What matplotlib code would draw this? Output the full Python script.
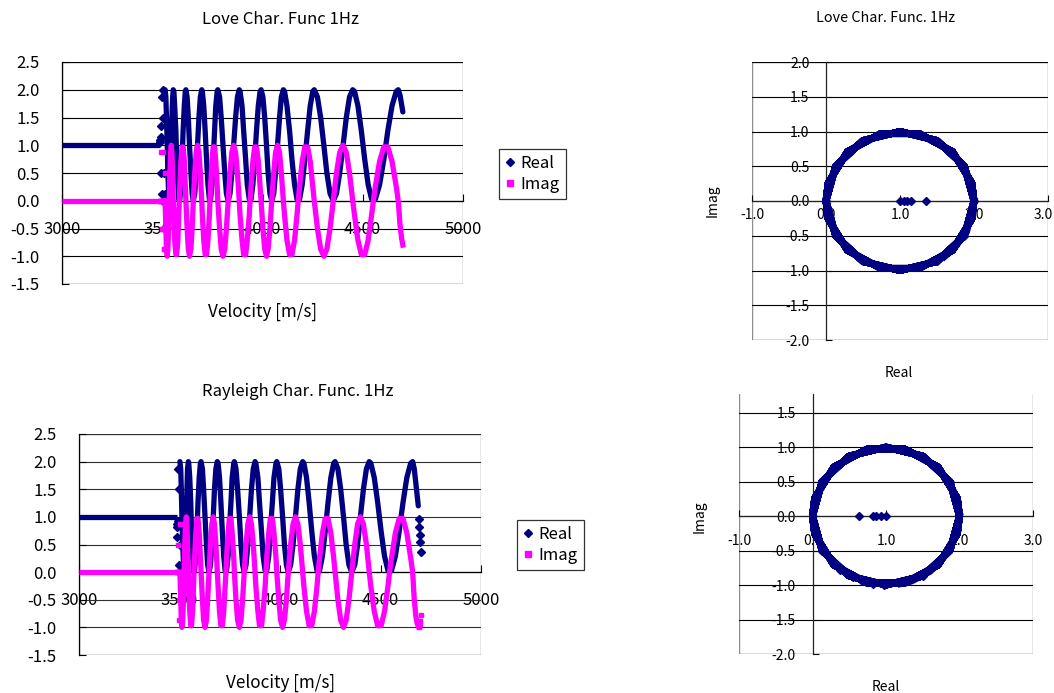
import matplotlib
matplotlib.use("Agg")
import matplotlib.pyplot as plt
from matplotlib.patches import Rectangle
from matplotlib.lines import Line2D
from matplotlib.ticker import FormatStrFormatter
from matplotlib.transforms import ScaledTranslation

plt.rcParams['font.family'] = ['Noto Sans CJK JP', 'DejaVu Sans']
plt.rcParams['axes.unicode_minus'] = True

NAVY = '#000080'
MAGENTA = '#FF00FF'

# ------------------------------------------------------------------ data
# ---- Love, 1 Hz ----
love_flat_v = [3000, 3490]
love_flat_re = [1.0, 1.0]
love_flat_im = [0.0, 0.0]

love_start_v = [3488, 3490, 3492, 3494, 3496, 3498, 3500, 3502, 3504, 3506, 3508, 3510, 3512]
love_start_re = [1.05, 1.1, 1.15, 1.35, 0.5, 1.87, 0.13, 1.5, 0.0, 2.0, 0.5, 1.5, 0.13]
love_start_im = [0.0, 0.0, 0.0, 0.0, 0.87, -0.5, -0.5, 0.87, 0.0, 0.0, -0.87, -0.87, 0.5]

love_v = [3514,
          3518, 3521, 3525, 3528, 3532, 3535, 3538, 3542, 3545, 3548, 3552, 3555,
          3558, 3562, 3568, 3572, 3578, 3582, 3585, 3588, 3593, 3599, 3604, 3610, 3615, 3618,
          3624, 3630, 3636, 3643, 3649, 3655, 3662, 3669, 3676, 3683, 3690, 3697,
          3700, 3707, 3714, 3721, 3728, 3735, 3738, 3741, 3748, 3754, 3761, 3767, 3774, 3777,
          3786, 3794, 3803, 3812, 3820, 3829, 3838, 3847, 3856, 3866, 3875, 3884,
          3888, 3898, 3906, 3916, 3924, 3934, 3938, 3943, 3952, 3961, 3970, 3979, 3988, 3993,
          4002, 4011, 4020, 4028, 4037, 4046, 4056, 4065, 4075, 4085, 4094, 4104,
          4110, 4122, 4135, 4147, 4160, 4172, 4178, 4185, 4198, 4211, 4225, 4238, 4251, 4258,
          4274, 4290, 4306, 4321, 4337, 4353, 4369, 4385, 4402, 4418, 4434, 4450,
          4459, 4476, 4493, 4510, 4527, 4544, 4553, 4563, 4584, 4605, 4625, 4646, 4667, 4677]
love_re = [2.0,
           1.87, 1.5, 1.0, 0.5, 0.13, 0.0, 0.13, 0.5, 1.0, 1.5, 1.87, 2.0,
           1.97, 1.71, 1.26, 0.74, 0.29, 0.03, 0.0, 0.03, 0.29, 0.74, 1.26, 1.71, 1.97, 2.0,
           1.87, 1.5, 1.0, 0.5, 0.13, 0.0, 0.13, 0.5, 1.0, 1.5, 1.87, 2.0,
           1.97, 1.71, 1.26, 0.74, 0.29, 0.03, 0.0, 0.03, 0.29, 0.74, 1.26, 1.71, 1.97, 2.0,
           1.87, 1.5, 1.0, 0.5, 0.13, 0.0, 0.13, 0.5, 1.0, 1.5, 1.87, 2.0,
           1.97, 1.71, 1.26, 0.74, 0.29, 0.03, 0.0, 0.03, 0.29, 0.74, 1.26, 1.71, 1.97, 2.0,
           1.87, 1.5, 1.0, 0.5, 0.13, 0.0, 0.13, 0.5, 1.0, 1.5, 1.87, 2.0,
           1.97, 1.71, 1.26, 0.74, 0.29, 0.03, 0.0, 0.03, 0.29, 0.74, 1.26, 1.71, 1.97, 2.0,
           1.87, 1.5, 1.0, 0.5, 0.13, 0.0, 0.13, 0.5, 1.0, 1.5, 1.87, 2.0,
           1.97, 1.71, 1.26, 0.74, 0.29, 0.03, 0.0, 0.03, 0.29, 0.74, 1.26, 1.71, 1.97, 2.0]
love_im = [0.0,
           -0.5, -0.87, -1.0, -0.87, -0.5, 0.0, 0.5, 0.87, 1.0, 0.87, 0.5, 0.0,
           -0.26, -0.71, -0.97, -0.97, -0.71, -0.26, 0.0, 0.26, 0.71, 0.97, 0.97, 0.71, 0.26, 0.0,
           -0.5, -0.87, -1.0, -0.87, -0.5, 0.0, 0.5, 0.87, 1.0, 0.87, 0.5, 0.0,
           -0.26, -0.71, -0.97, -0.97, -0.71, -0.26, 0.0, 0.26, 0.71, 0.97, 0.97, 0.71, 0.26, 0.0,
           -0.5, -0.87, -1.0, -0.87, -0.5, 0.0, 0.5, 0.87, 1.0, 0.87, 0.5, 0.0,
           -0.26, -0.71, -0.97, -0.97, -0.71, -0.26, 0.0, 0.26, 0.71, 0.97, 0.97, 0.71, 0.26, 0.0,
           -0.5, -0.87, -1.0, -0.87, -0.5, 0.0, 0.5, 0.87, 1.0, 0.87, 0.5, 0.0,
           -0.26, -0.71, -0.97, -0.97, -0.71, -0.26, 0.0, 0.26, 0.71, 0.97, 0.97, 0.71, 0.26, 0.0,
           -0.5, -0.87, -1.0, -0.87, -0.5, 0.0, 0.5, 0.87, 1.0, 0.87, 0.5, 0.0,
           -0.26, -0.71, -0.97, -0.97, -0.71, -0.26, 0.0, 0.26, 0.71, 0.97, 0.97, 0.71, 0.26, 0.0]

love_tail_v = [4686, 4694, 4700]
love_tail_re = [1.9, 1.73, 1.6]
love_tail_im = [-0.44, -0.68, -0.8]

# ---- Rayleigh, 1 Hz ----
ray_flat_v = [3000, 3486]
ray_flat_re = [1.0, 1.0]
ray_flat_im = [0.0, 0.0]

ray_start_v = [3486, 3488, 3490, 3492, 3494, 3496, 3498, 3500]
ray_start_re = [0.63, 0.82, 0.87, 0.93, 1.87, 0.13, 1.5, 0.5]
ray_start_im = [0.0, 0.0, 0.0, 0.0, 0.5, -0.5, -0.87, 0.87]

ray_v = [3502,
         3506, 3509, 3512, 3516, 3520, 3523, 3526, 3530, 3534, 3537, 3540, 3544,
         3546, 3551, 3556, 3560, 3565, 3570, 3572, 3575, 3581, 3587, 3592, 3598, 3604, 3607,
         3614, 3620, 3627, 3634, 3640, 3647, 3654, 3661, 3668, 3674, 3681, 3688,
         3692, 3699, 3706, 3713, 3720, 3727, 3731, 3734, 3742, 3748, 3756, 3762, 3770, 3773,
         3781, 3789, 3798, 3806, 3814, 3822, 3831, 3840, 3849, 3858, 3867, 3876,
         3880, 3890, 3898, 3908, 3916, 3926, 3930, 3934, 3944, 3952, 3962, 3970, 3980, 3984,
         3994, 4003, 4013, 4022, 4032, 4041, 4053, 4065, 4077, 4089, 4101, 4113,
         4119, 4132, 4145, 4158, 4171, 4184, 4190, 4197, 4211, 4225, 4239, 4253, 4267, 4274,
         4288, 4302, 4316, 4329, 4343, 4357, 4372, 4386, 4400, 4415, 4430, 4444,
         4452, 4469, 4486, 4503, 4520, 4537, 4545, 4555, 4574, 4593, 4612, 4631, 4650, 4660]
ray_re = [2.0,
          1.87, 1.5, 1.0, 0.5, 0.13, 0.0, 0.13, 0.5, 1.0, 1.5, 1.87, 2.0,
          1.97, 1.71, 1.26, 0.74, 0.29, 0.03, 0.0, 0.03, 0.29, 0.74, 1.26, 1.71, 1.97, 2.0,
          1.87, 1.5, 1.0, 0.5, 0.13, 0.0, 0.13, 0.5, 1.0, 1.5, 1.87, 2.0,
          1.97, 1.71, 1.26, 0.74, 0.29, 0.03, 0.0, 0.03, 0.29, 0.74, 1.26, 1.71, 1.97, 2.0,
          1.87, 1.5, 1.0, 0.5, 0.13, 0.0, 0.13, 0.5, 1.0, 1.5, 1.87, 2.0,
          1.97, 1.71, 1.26, 0.74, 0.29, 0.03, 0.0, 0.03, 0.29, 0.74, 1.26, 1.71, 1.97, 2.0,
          1.87, 1.5, 1.0, 0.5, 0.13, 0.0, 0.13, 0.5, 1.0, 1.5, 1.87, 2.0,
          1.97, 1.71, 1.26, 0.74, 0.29, 0.03, 0.0, 0.03, 0.29, 0.74, 1.26, 1.71, 1.97, 2.0,
          1.87, 1.5, 1.0, 0.5, 0.13, 0.0, 0.13, 0.5, 1.0, 1.5, 1.87, 2.0,
          1.97, 1.71, 1.26, 0.74, 0.29, 0.03, 0.0, 0.03, 0.29, 0.74, 1.26, 1.71, 1.97, 2.0]
ray_im = [0.0,
          -0.5, -0.87, -1.0, -0.87, -0.5, 0.0, 0.5, 0.87, 1.0, 0.87, 0.5, 0.0,
          -0.26, -0.71, -0.97, -0.97, -0.71, -0.26, 0.0, 0.26, 0.71, 0.97, 0.97, 0.71, 0.26, 0.0,
          -0.5, -0.87, -1.0, -0.87, -0.5, 0.0, 0.5, 0.87, 1.0, 0.87, 0.5, 0.0,
          -0.26, -0.71, -0.97, -0.97, -0.71, -0.26, 0.0, 0.26, 0.71, 0.97, 0.97, 0.71, 0.26, 0.0,
          -0.5, -0.87, -1.0, -0.87, -0.5, 0.0, 0.5, 0.87, 1.0, 0.87, 0.5, 0.0,
          -0.26, -0.71, -0.97, -0.97, -0.71, -0.26, 0.0, 0.26, 0.71, 0.97, 0.97, 0.71, 0.26, 0.0,
          -0.5, -0.87, -1.0, -0.87, -0.5, 0.0, 0.5, 0.87, 1.0, 0.87, 0.5, 0.0,
          -0.26, -0.71, -0.97, -0.97, -0.71, -0.26, 0.0, 0.26, 0.71, 0.97, 0.97, 0.71, 0.26, 0.0,
          -0.5, -0.87, -1.0, -0.87, -0.5, 0.0, 0.5, 0.87, 1.0, 0.87, 0.5, 0.0,
          -0.26, -0.71, -0.97, -0.97, -0.71, -0.26, 0.0, 0.26, 0.71, 0.97, 0.97, 0.71, 0.26, 0.0]

ray_tail_v = [4668, 4676, 4683, 4688]
ray_tail_re = [1.87, 1.6, 1.35, 1.2]
ray_tail_im = [-0.5, -0.8, -0.94, -0.98]
ray_end_v = [4692, 4694, 4696, 4698, 4700]
ray_end_re = [0.97, 0.82, 0.67, 0.55, 0.37]
ray_end_im = [-1.0, -0.98, -0.94, -0.89, -0.78]

# axis settings
wave_xticks = [3000, 3500, 4000, 4500, 5000]
wave_yticks = [-1.5, -1.0, -0.5, 0.0, 0.5, 1.0, 1.5, 2.0, 2.5]
circ_xticks = [-1.0, 0.0, 1.0, 2.0, 3.0]
circ_yticks = [-2.0, -1.5, -1.0, -0.5, 0.0, 0.5, 1.0, 1.5, 2.0]
series_names = ['Real', 'Imag']

W, H = 1054, 693
fig = plt.figure(figsize=(W / 100, H / 100), dpi=100)
fig.patch.set_facecolor('white')


def frac_rect(l, t, r, b):
    return [l / W, 1 - b / H, (r - l) / W, (b - t) / H]


LW = 3.8


def wave_panel(rect, flat, start, main, tail, end, grid_color):
    ax = fig.add_axes(rect)
    ax.set_xlim(3000, 5000)
    ax.set_ylim(-1.5, 2.5)
    for s in ['top', 'right']:
        ax.spines[s].set_visible(False)
    ax.spines['left'].set_color('black')
    ax.spines['left'].set_linewidth(0.9)
    ax.spines['bottom'].set_position(('data', 0))
    ax.spines['bottom'].set_color('black')
    ax.spines['bottom'].set_linewidth(0.9)
    ax.add_patch(Rectangle((0, 0), 1, 1, transform=ax.transAxes, fill=False,
                           edgecolor='#8c8c8c', lw=1.0, zorder=0.5))
    ax.set_xticks(wave_xticks)
    ax.set_yticks(wave_yticks)
    ax.xaxis.set_major_formatter(FormatStrFormatter('%d'))
    ax.yaxis.set_major_formatter(FormatStrFormatter('%.1f'))
    ax.yaxis.grid(True, color=grid_color, lw=0.8)
    ax.set_axisbelow(True)
    ax.tick_params(axis='x', direction='in', length=5, width=0.8, pad=14.5,
                   labelsize=12)
    ax.tick_params(axis='y', direction='in', length=5, width=0.8, pad=16,
                   labelsize=12)
    # Real
    ax.plot(flat[0], flat[1], color=NAVY, lw=LW, solid_capstyle='butt', zorder=3)
    ax.plot(start[0], start[1], ls='none', marker='D', ms=3.6, color=NAVY, zorder=3)
    ax.plot(main[0] + tail[0], main[1] + tail[1], color=NAVY, lw=LW,
            solid_joinstyle='round', solid_capstyle='round', zorder=3)
    if end is not None:
        ax.plot(end[0], end[1], ls='none', marker='D', ms=3.6, color=NAVY, zorder=3)
    # Imag
    ax.plot(flat[0], flat[2], color=MAGENTA, lw=LW, solid_capstyle='butt', zorder=4)
    ax.plot(start[0], start[2], ls='none', marker='s', ms=3.4, color=MAGENTA, zorder=4)
    ax.plot(main[0] + tail[0], main[2] + tail[2], color=MAGENTA, lw=LW,
            solid_joinstyle='round', solid_capstyle='projecting', zorder=4)
    if end is not None:
        ax.plot(end[0], end[2], ls='none', marker='s', ms=3.4, color=MAGENTA, zorder=4)
    return ax


def circle_panel(rect, ylim, start, main, tail, end, full_box, xpad, ylabel_xy,
                 xlabel_xy, shift_last):
    ax = fig.add_axes(rect)
    ax.set_xlim(-1.0, 3.0)
    ax.set_ylim(*ylim)
    for s in ['top', 'right']:
        ax.spines[s].set_visible(False)
    ax.spines['left'].set_position(('data', 0))
    ax.spines['bottom'].set_position(('data', 0))
    ax.spines['left'].set_color('#222222')
    ax.spines['bottom'].set_color('#222222')
    ax.spines['left'].set_linewidth(0.9)
    ax.spines['bottom'].set_linewidth(0.9)
    if full_box:
        ax.add_patch(Rectangle((0, 0), 1, 1, transform=ax.transAxes, fill=False,
                               edgecolor='#8c8c8c', lw=1.0, zorder=0.5))
    else:
        ax.add_line(Line2D([0, 0, 1, 1], [1, 0, 0, 1], transform=ax.transAxes,
                           color='#8c8c8c', lw=1.0, zorder=0.5))
    ax.set_xticks(circ_xticks)
    ax.set_yticks([t for t in circ_yticks if t <= ylim[1]])
    ax.xaxis.set_major_formatter(FormatStrFormatter('%.1f'))
    ax.yaxis.set_major_formatter(FormatStrFormatter('%.1f'))
    ax.yaxis.grid(True, color='black', lw=0.8)
    ax.set_axisbelow(True)
    ax.tick_params(axis='x', direction='in', length=4, width=0.8, pad=xpad, labelsize=10)
    ax.tick_params(axis='y', direction='in', length=4, width=0.8, pad=12, labelsize=10)
    ax.plot(main[1] + tail[1], main[2] + tail[2], color=NAVY, lw=5.0,
            solid_joinstyle='round', zorder=3)
    ax.plot(start[1], start[2], ls='none', marker='D', ms=4, color=NAVY, zorder=3)
    if end is not None:
        ax.plot(end[1], end[2], ls='none', marker='D', ms=4, color=NAVY, zorder=3)
    ax.plot([1.0], [0.0], ls='none', marker='D', ms=4, color=NAVY, zorder=3)
    ax.set_ylabel('Imag', fontsize=10)
    ax.set_xlabel('Real', fontsize=10)
    ax.yaxis.set_label_coords(*ylabel_xy)
    ax.xaxis.set_label_coords(*xlabel_xy)
    if shift_last:
        lbl = ax.get_xticklabels()[-1]
        lbl.set_transform(lbl.get_transform() +
                          ScaledTranslation(-5 / 100, 0, fig.dpi_scale_trans))
    return ax


love_flat = (love_flat_v, love_flat_re, love_flat_im)
love_start = (love_start_v, love_start_re, love_start_im)
love_main = (love_v, love_re, love_im)
love_tail = (love_tail_v, love_tail_re, love_tail_im)

ray_flat = (ray_flat_v, ray_flat_re, ray_flat_im)
ray_start = (ray_start_v, ray_start_re, ray_start_im)
ray_main = (ray_v, ray_re, ray_im)
ray_tail = (ray_tail_v, ray_tail_re, ray_tail_im)
ray_end = (ray_end_v, ray_end_re, ray_end_im)

handles = [Line2D([], [], ls='none', marker='D', ms=4, color=NAVY),
           Line2D([], [], ls='none', marker='s', ms=4, color=MAGENTA)]


def add_legend(ax, x, y):
    leg = ax.legend(handles, series_names, loc='upper left',
                    bbox_to_anchor=(x / W, 1 - y / H),
                    bbox_transform=fig.transFigure, frameon=True, fancybox=False,
                    edgecolor='black', fontsize=12, handlelength=0.6,
                    handletextpad=0.35, borderpad=0.35, labelspacing=0.25,
                    borderaxespad=0)
    leg.get_frame().set_linewidth(0.9)


# ---- top-left: Love wave
ax1 = wave_panel(frac_rect(62, 62, 463, 284), love_flat, love_start, love_main,
                 love_tail, None, 'black')
fig.text(280 / W, 1 - 20 / H, 'Love Char. Func 1Hz', ha='center', va='center', fontsize=12)
fig.text(262 / W, 1 - 312 / H, 'Velocity [m/s]', ha='center', va='center', fontsize=12.3)
add_legend(ax1, 499, 149)

# ---- bottom-left: Rayleigh wave
ax2 = wave_panel(frac_rect(79, 434, 481, 655), ray_flat, ray_start, ray_main,
                 ray_tail, ray_end, '#303030')
fig.text(298 / W, 1 - 392 / H, 'Rayleigh Char. Func. 1Hz', ha='center', va='center', fontsize=12)
fig.text(280 / W, 1 - 683 / H, 'Velocity [m/s]', ha='center', va='center', fontsize=12.3)
add_legend(ax2, 517, 520)

# ---- top-right: Love circle
ax3 = circle_panel(frac_rect(752, 62, 1048, 340), (-2.0, 2.0), love_start, love_main,
                   love_tail, None, True, 5, (-0.108, 0.5), (0.497, -0.094), True)
fig.text(886 / W, 1 - 18 / H, 'Love Char. Func. 1Hz', ha='center', va='center', fontsize=10.3)

# ---- bottom-right: Rayleigh circle
ax4 = circle_panel(frac_rect(739, 394, 1033, 654), (-2.0, 1.77), ray_start, ray_main,
                   ray_tail, ray_end, False, 13, (-0.109, 0.53), (0.5, -0.1), False)

fig.savefig('out.png', dpi=100, facecolor='white')
